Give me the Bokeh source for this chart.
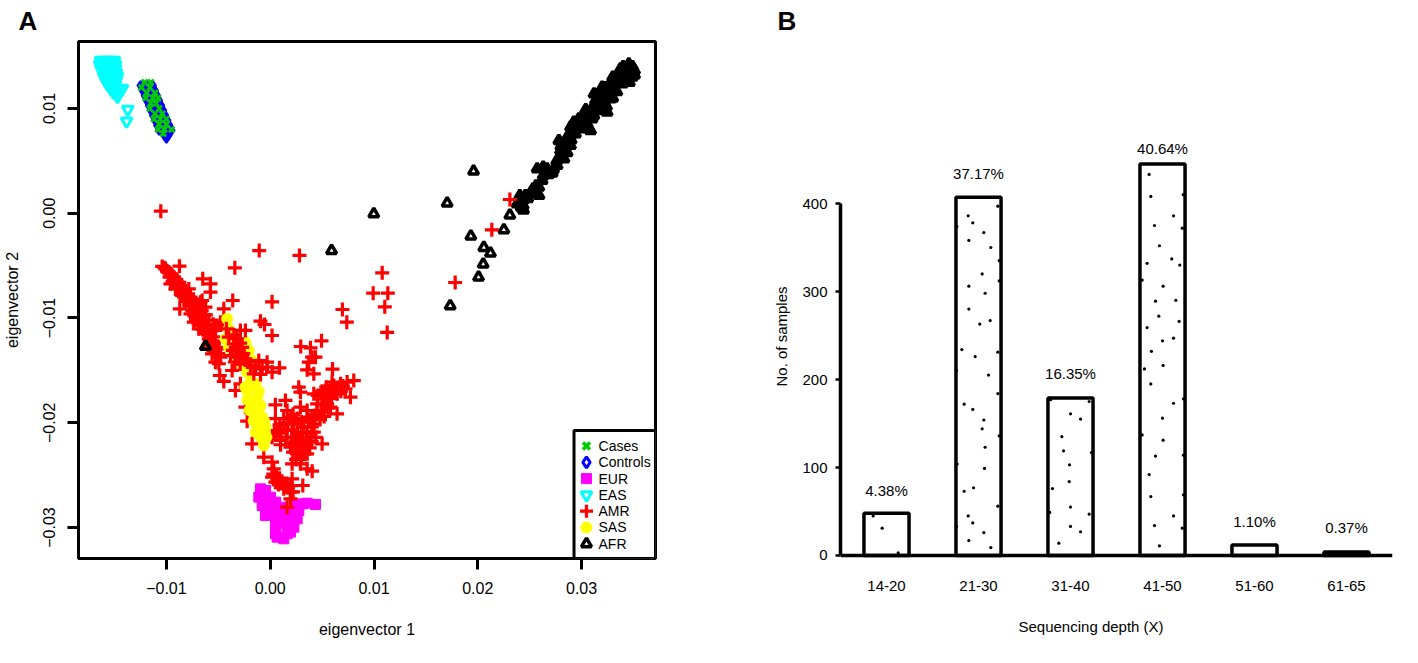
# PCA scatter (A) and sequencing depth bars (B)
from bokeh.core.properties import value
from bokeh.embed import file_html
from bokeh.layouts import row
from bokeh.models import FactorRange, FixedTicker, Range1d, Span, Title
from bokeh.plotting import figure
from bokeh.resources import INLINE

FONT = "Liberation Sans"

## Panel A data, eigenvectors in units of 0.001 ################
cases_x = [-12.1, -11.5, -12.4, -11.6, -11.9, -11.1, -12.0, -11.3, -10.8, -11.5, -11.0, -11.6, -10.7,
           -11.1, -10.4, -11.2, -10.6, -10.0, -10.7, -10.0, -10.8, -10.2, -9.5, -10.3]
cases_y = [12.5, 12.5, 12.0, 12.0, 11.5, 11.5, 11.0, 11.0, 11.0, 10.5, 10.5, 10.0, 10.0,
           9.5, 9.5, 9.0, 9.0, 9.0, 8.5, 8.5, 8.0, 8.0, 8.0, 7.6]
controls_x = [-12.5, -11.9, -11.3, -12.3, -11.7, -11.1, -12.1, -11.5, -10.9, -11.9, -11.3, -10.7,
              -11.7, -11.1, -10.5, -11.5, -10.9, -10.3, -11.3, -10.7, -10.1, -11.1, -10.5, -9.9,
              -10.9, -10.3, -9.7, -10.7, -10.1, -9.5, -10.2, -9.8, -10.0]
controls_y = [12.20, 12.20, 12.20, 11.72, 11.72, 11.72, 11.24, 11.24, 11.24, 10.77, 10.77, 10.77,
              10.29, 10.29, 10.29, 9.81, 9.81, 9.81, 9.33, 9.33, 9.33, 8.86, 8.86, 8.86,
              8.38, 8.38, 8.38, 7.90, 7.90, 7.90, 7.42, 7.42, 7.14]
eur_x = [-1.10, -0.94, -0.45, -0.61, 0.03, -0.77, -0.13, 0.51, -0.45, 0.19, 0.99, 0.51, 1.15, 1.79, 2.44,
         3.08, 3.56, 4.36, 2.76, 0.51, 1.15, 1.95, 2.60, 0.67, 1.31, 1.95, 2.28, 0.51, 1.63]
eur_y = [-27.10, -26.31, -26.47, -27.26, -27.10, -27.90, -27.90, -27.58, -28.85, -28.70, -28.06, -29.33,
         -28.85, -28.70, -27.90, -27.74, -27.68, -27.80, -28.38, -30.13, -29.65, -29.49, -29.17, -30.92,
         -31.08, -30.44, -29.97, -30.60, -30.60]
eas_x = [-16.35, -15.96, -15.58, -15.29, -15.00,
         -16.44, -16.06, -15.67, -15.29, -14.90,
         -16.35, -15.96, -15.58, -15.19, -14.90,
         -16.16, -15.77, -15.38, -15.00, -14.81,
         -16.06, -15.67, -15.29, -14.90, -14.71,
         -15.87, -15.48, -15.10, -14.81,
         -15.67, -15.29, -14.90,
         -15.38, -15.00, -14.61,
         -15.10, -14.81,
         -14.71, -14.23, -13.72, -13.84]
eas_y = [14.58, 14.58, 14.58, 14.58, 14.58,
         14.20, 14.20, 14.20, 14.20, 14.20,
         13.82, 13.82, 13.82, 13.82, 13.82,
         13.44, 13.44, 13.44, 13.44, 13.44,
         13.06, 13.06, 13.06, 13.06, 13.06,
         12.67, 12.67, 12.67, 12.67,
         12.29, 12.29, 12.29,
         11.91, 11.91, 11.91,
         11.53, 11.53,
         11.14, 11.91, 9.90, 8.79]
amr_x = [-10.41, -10.09, -9.77, -9.45, -9.29, -8.97, -9.61, -8.65, -9.13, -8.33, -7.84, -8.49, -7.68, -8.17,
         -7.52, -8.71, -6.72, -7.20, -6.24, -7.68, -7.04, -6.40, -7.36, -6.56, -6.08, -6.88, -5.76, -5.11,
         -4.79, -5.28, -5.92, -5.44, -4.95, -5.60, -4.79, -5.28, -4.95, -4.86, -4.47, -3.35, -2.87, -8.74,
         -6.50, -5.76, -5.76, -3.61, -3.41, -6.56, -4.47,
         -10.54, -1.06, 2.82, 23.09, 21.35, 17.82, 10.79, 9.92, 11.33, 11.04, 11.27,
         -0.94, -0.55, 0.18, 0.18, 4.94, 2.94, 3.88, 4.04, 4.36, 3.72, 3.56, 4.20, 6.00, 6.96, 7.38,
         8.05, 7.41, 6.77, 5.96, 6.12, 7.73, 6.44, 7.25, 5.32, 4.20, 2.75, 2.91, 5.00, 5.48, 6.44, 5.80,
         4.52, 3.56, 1.47, 0.50, 1.63, 2.91, 4.20, 3.23, 3.88, 5.00, 2.27, 1.31, 0.67, 1.63, 2.75, 3.23,
         2.59, 2.91, 3.56, 4.04, 2.11, 0.99, 0.18, -1.74, -2.22, -2.39, -0.62, 0.18, 0.34, 0.18, 0.50,
         1.31, 2.11, 3.14, 1.31, 1.95, 1.95, 1.63,
         2.00, 3.56, 4.52, 5.16, 2.59, 3.56, 4.20, 1.95, 3.56,
         # left arm
         -10.2, -9.95, -9.6, -9.7, -9.3, -9.4, -9.05, -9.0, -8.75, -8.8, -8.5, -8.6, -8.2, -8.3, -7.9, -8.0,
         -7.7, -7.8, -7.4, -7.5, -7.1, -7.3, -6.9, -7.1, -6.7, -6.9, -6.4, -6.5, -6.1, -6.3, -5.9, -5.7, -5.5,
         -5.3, -5.6, -5.2, -5.3, -5.0, -7.4, -7.0, -6.6, -6.2, -5.9, -5.5, -6.0,
         # right arm, lower part
         0.5, 0.9, 1.3, 1.7, 2.2, 2.6, 3.0, 3.9, 4.3, 4.8, 5.2, 0.4, 1.0, 1.6, 2.1, 3.0, 4.0, 2.2, 2.6, 3.1,
         3.5, 4.0, 4.4, 2.0, 2.4, 2.9, 3.5, 3.8, 2.2, 2.9, 3.3, 2.5, 3.0, 1.0,
         # right arm, upper part
         4.6, 5.0, 5.2, 5.5, 5.0, 5.9, 5.6, 4.9, 5.4, 6.2, 6.8, 7.0, 5.7,
         # chain down to EUR
         0.3, 0.6, 0.9, 0.8, 1.1, 1.6, 1.7, 2.0, 2.2]
amr_y = [-5.08, -5.31, -5.62, -5.94, -6.42, -6.58, -6.74, -6.90, -7.22, -7.37, -7.22, -7.85, -8.01, -8.33,
         -8.65, -9.12, -8.49, -9.12, -8.97, -9.60, -9.76, -9.76, -10.40, -10.40, -10.72, -11.03, -11.19, -10.72,
         -10.40, -11.19, -11.99, -12.47, -12.94, -13.42, -13.74, -14.22, -14.37, -15.49, -16.06, -16.92, -16.28, -5.05,
         -6.26, -6.74, -7.53, -8.33, -5.21, -8.33, -9.12,
         0.20, -3.56, -4.03, 1.31, -1.58, -6.61, -5.69, -7.63, -7.63, -8.93, -11.38,
         -10.30, -10.62, -11.67, -8.46, -12.18, -12.72, -12.85, -13.74, -13.74, -14.22, -14.95, -15.33, -14.88, -9.19, -10.40,
         -15.97, -16.12, -16.28, -16.12, -16.44, -17.56, -17.24, -16.76, -16.92, -17.24, -16.60, -17.08, -17.72, -18.19, -19.15, -18.51,
         -19.15, -19.47, -17.87, -18.29, -18.83, -18.51, -20.10, -20.42, -21.38, -22.01, -20.10, -20.10, -20.74, -21.38, -21.69, -22.33,
         -22.97, -23.92, -24.40, -24.62, -23.92, -21.69, -21.38, -22.01, -19.85, -18.51, -23.29, -23.76, -24.40, -25.19, -25.67,
         -25.83, -25.35, -25.99, -26.31, -26.63, -27.26, -28.06,
         -19.50, -18.83, -18.19, -18.83, -20.90, -20.90, -20.90, -22.33, -22.97,
         -5.2, -5.5, -5.8, -6.1, -6.1, -6.5, -6.3, -6.9, -6.6, -7.2, -7.1, -7.6, -7.6, -8.0, -7.9, -8.4,
         -8.4, -8.8, -8.9, -9.3, -9.4, -9.8, -9.8, -10.2, -10.2, -10.6, -10.6, -11.1, -11.2, -11.5, -11.6, -12.2, -11.8,
         -12.2, -12.8, -12.8, -13.3, -13.4, -8.2, -8.9, -9.3, -9.7, -10.2, -10.6, -12.6,
         -19.6, -20.2, -19.6, -20.0, -19.2, -19.6, -19.9, -19.7, -19.3, -19.7, -19.4, -21.0, -21.0, -20.7, -20.7, -21.0, -20.4, -21.4, -21.2, -21.6,
         -21.4, -21.8, -21.4, -22.0, -22.2, -22.3, -22.0, -22.4, -22.8, -22.8, -23.0, -23.5, -23.4, -22.1,
         -17.4, -17.0, -17.4, -17.6, -18.3, -17.7, -18.6, -19.0, -16.6, -17.0, -17.0, -16.5, -17.2,
         -24.9, -25.1, -25.3, -25.9, -25.6, -25.8, -26.2, -26.0, -26.6]
# AMR samples that sit on top of the SAS cloud
amr_top_x = [-4.22, -3.99, -2.87, -2.39, -3.51, -3.03, -3.83, -3.19, -2.39, -3.67, -1.90, -1.10, -0.30, -1.42,
             -0.78, 0.18, 0.89, -0.30, -0.94, -1.58,
             -3.5, -3.2, -2.9, -3.3, -2.7, -3.6, -2.6, -3.0, -3.4, -2.2, -2.9]
amr_top_y = [-11.03, -11.83, -11.19, -11.19, -12.47, -13.10, -13.58, -13.74, -13.90, -15.01, -14.53, -14.06, -14.22, -14.69,
             -14.85, -15.17, -14.76, -14.69, -15.39, -15.33,
             -11.6, -12.0, -12.4, -12.8, -12.8, -13.1, -13.4, -13.6, -14.2, -14.2, -14.4]
sas_x = [-4.15, -3.99, -4.31, -3.99, -3.67, -2.39, -2.06, -1.74, -2.71, -3.19, -2.22, -1.90, -2.22, -1.42,
         -2.06, -1.26, -1.74, -0.94, -1.42, -0.78, -1.26, -0.46, -0.94, -0.36, -0.62,
         -2.4, -1.1, -2.2, -1.0, -2.0, -1.6, -0.6, -1.4, -0.5]
sas_y = [-10.08, -11.03, -11.99, -12.78, -13.10, -12.31, -13.10, -14.06, -14.53, -13.90, -15.17, -16.12, -16.92, -16.28,
         -17.87, -17.56, -18.51, -18.35, -19.47, -19.47, -20.42, -20.42, -21.38, -21.38, -22.17,
         -16.6, -17.0, -17.8, -18.5, -18.8, -19.8, -19.8, -20.9, -20.9]
# scattered AFR samples
afr_x = [19.59, 17.05, 9.98, 23.09, 22.51, 19.33, 20.58, 21.22, 20.52, 20.07, 17.34, 5.91, -6.23]
afr_y = [4.02, 0.96, -0.06, -0.18, -1.58, -2.19, -3.27, -3.81, -4.86, -6.10, -8.84, -3.56, -12.72]
# AFR samples in the dense diagonal band
afr_band_x = [23.79, 24.18, 24.37, 24.05, 24.59, 25.08, 25.56, 25.88, 26.20, 25.72, 26.30, 26.68, 27.16, 27.64,
              28.13, 27.97, 27.81, 28.45, 28.93, 28.93, 29.41, 29.73, 30.05, 30.53, 30.86, 31.18, 31.50, 31.34,
              31.82, 31.98, 32.46, 32.62, 32.78, 33.26, 33.42, 33.91, 34.07, 34.55, 34.87, 35.10, 32.30, 33.10,
              34.39, 30.53, 30.05, 29.25, 28.61, 33.75, 31.98, 31.18,
              34.0, 34.9, 35.1, 34.6, 33.6, 33.0, 33.4, 32.6, 32.2, 33.0, 32.2, 31.6, 31.2, 32.4, 31.6, 31.0, 30.4,
              31.0, 30.2, 29.6, 29.2, 29.0, 28.5, 28.0, 28.6, 28.3, 27.6, 27.3, 26.8, 26.3, 25.6, 25.3, 24.8, 25.9,
              24.4, 24.4]
afr_band_y = [0.90, 0.58, 0.74, 1.69, 1.69, 1.92, 1.92, 2.49, 3.13, 4.24, 4.40, 4.24, 3.83, 4.56,
              5.35, 5.99, 6.94, 6.31, 6.47, 8.22, 7.58, 9.01, 8.06, 8.53, 7.90, 9.33, 9.97, 10.76,
              11.56, 10.29, 9.65, 12.19, 10.92, 11.72, 12.99, 12.35, 13.47, 14.26, 12.99, 13.63, 11.08, 12.35,
              12.83, 9.33, 8.85, 8.69, 7.26, 13.79, 12.04, 10.29,
              14.0, 14.0, 13.2, 12.5, 12.8, 13.0, 11.6, 11.6, 12.0, 11.0, 10.6, 11.0, 11.4, 10.2, 9.8, 9.9, 9.9,
              9.0, 8.4, 8.2, 7.6, 7.0, 6.8, 6.4, 5.8, 5.2, 5.0, 4.2, 3.7, 3.6, 2.6, 2.3, 1.4, 1.7,
              1.3, 0.3]

legend_labels = ['Cases', 'Controls', 'EUR', 'EAS', 'AMR', 'SAS', 'AFR']

## Panel B data ################################################
depth = ['14-20', '21-30', '31-40', '41-50', '51-60', '61-65']
samples = [48, 407, 179, 445, 12, 4]
pct_labels = ['4.38%', '37.17%', '16.35%', '40.64%', '1.10%', '0.37%']
pct_offset = [-23, -24, -24, -15, -23, -24]

# stipple inside the bars, x is in factor-range units
dots_x = [0.355, 0.453, 0.627,
          1.710, 1.388, 1.438, 1.264, 1.558, 1.395, 1.634, 1.725, 1.540, 1.725, 1.395, 1.572, 1.395, 1.627, 1.514,
          1.319, 1.710, 1.464, 1.261, 1.609, 1.710, 1.344, 1.438, 1.558, 1.540, 1.725, 1.572, 1.268, 1.565, 1.446,
          1.344, 1.710, 1.388, 1.438, 1.261, 1.558, 1.395, 1.634,
          2.283, 2.703, 2.500, 2.609, 2.406, 2.424, 2.728, 2.489, 2.486, 2.304, 2.275, 2.703, 2.500, 2.500, 2.609, 2.373,
          3.355, 3.373, 3.725, 3.620, 3.413, 3.714, 3.467, 3.601, 3.333, 3.688, 3.279, 3.507, 3.424, 3.645, 3.460,
          3.681, 3.333, 3.500, 3.620, 3.380, 3.304, 3.507, 3.373, 3.728, 3.620, 3.500, 3.279, 3.507, 3.424, 3.728,
          3.355, 3.373, 3.728, 3.620, 3.413, 3.714, 3.467]
dots_y = [45, 31, 3,
          397, 386, 378, 374, 367, 358, 350, 335, 320, 312, 306, 298, 280, 267, 263,
          234, 231, 226, 210, 205, 184, 172, 166, 154, 144, 136, 123, 104, 99, 77,
          73, 56, 45, 37, 33, 26, 17, 9,
          177, 175, 161, 155, 135, 119, 117, 103, 84, 76, 49, 47, 55, 33, 27, 14,
          433, 408, 410, 386, 375, 372, 352, 337, 332, 330, 313, 306, 289, 290, 272,
          266, 259, 244, 247, 232, 212, 216, 195, 178, 173, 156, 137, 131, 113, 114,
          92, 67, 69, 45, 34, 31, 11]


def milli(vals):
    return [v * 0.001 for v in vals]


def side_text(fig, side, text, size="15px", style="normal", **kw):
    # panel titles, they sit outside the frame
    fig.add_layout(Title(text=text, text_font=FONT, text_font_size=size, text_font_style=style,
                         text_color="black", **kw), side)


## Panel A #####################################################
a = figure(width=760, height=660, output_backend="svg", toolbar_location=None,
           x_range=Range1d(-0.01847, 0.03712), y_range=Range1d(-0.03296, 0.016396),
           min_border_left=78, min_border_right=105, min_border_top=41, min_border_bottom=102)
a.grid.visible = False
a.outline_line_color = "black"
a.outline_line_width = 3
a.outline_line_alpha = 1

a.scatter(milli(afr_x), milli(afr_y), marker="triangle", size=10, fill_color=None, line_color="black", line_width=3.5)
a.scatter(milli(afr_band_x), milli(afr_band_y), marker="triangle", size=10, fill_color="black", line_color="black", line_width=3.5)
a.scatter(milli(eas_x), milli(eas_y), marker="inverted_triangle", size=11, fill_color=None, line_color="#00ffff", line_width=3)
a.scatter(milli(eur_x), milli(eur_y), marker="square", size=10, fill_color="#ff00ff", line_color="#ff00ff")
a.scatter(milli(amr_x), milli(amr_y), marker="cross", size=14, fill_color=None, line_color="#ff0000", line_width=3.2)
a.scatter(milli(sas_x), milli(sas_y), marker="circle", size=11, fill_color="#ffff00", line_color="#ffff00")
a.scatter(milli(amr_top_x), milli(amr_top_y), marker="cross", size=14, fill_color=None, line_color="#ff0000", line_width=3.2)
a.scatter(milli(afr_x[-1:]), milli(afr_y[-1:]), marker="triangle", size=10, fill_color=None, line_color="black", line_width=3.5)
a.scatter(milli(controls_x), milli(controls_y), marker="diamond", size=9, fill_color="#0000ff", line_color="#0000ff", line_width=2)
a.scatter(milli(cases_x), milli(cases_y), marker="x", size=8, fill_color=None, line_color="#00cc00", line_width=2.6)

# legend box in the lower right corner, drawn with the same markers at full size
a.quad(left=0.02927, right=0.03712, top=-0.02074, bottom=-0.03296, fill_color="white", line_color="black", line_width=3)
leg_y = [-0.02222 - i * 0.001556 for i in range(7)]
leg_kw = dict(x=0.03047)
a.scatter(y=leg_y[0], marker="x", size=10, line_color="#00cc00", line_width=3.5, **leg_kw)
a.scatter(y=leg_y[1], marker="diamond", size=11, fill_color=None, line_color="#0000ff", line_width=3, **leg_kw)
a.scatter(y=leg_y[2], marker="square", size=10, fill_color="#ff00ff", line_color="#ff00ff", **leg_kw)
a.scatter(y=leg_y[3], marker="inverted_triangle", size=11, fill_color=None, line_color="#00ffff", line_width=3, **leg_kw)
a.scatter(y=leg_y[4], marker="cross", size=13, line_color="#ff0000", line_width=3.2, **leg_kw)
a.scatter(y=leg_y[5], marker="circle", size=11, fill_color="#ffff00", line_color="#ffff00", **leg_kw)
a.scatter(y=leg_y[6], marker="triangle", size=10, fill_color=None, line_color="black", line_width=3.5, **leg_kw)
a.text(x=[0.03163] * 7, y=leg_y, text=legend_labels, text_font=value(FONT), text_font_size="14px",
       text_color="black", text_align="left", text_baseline="middle")

a.xaxis.ticker = FixedTicker(ticks=[-0.01, 0, 0.01, 0.02, 0.03])
a.xaxis.major_label_overrides = {-0.01: "\u22120.01", 0: "0.00", 0.01: "0.01", 0.02: "0.02", 0.03: "0.03"}
a.yaxis.ticker = FixedTicker(ticks=[-0.03, -0.02, -0.01, 0, 0.01])
a.yaxis.major_label_overrides = {-0.03: "\u22120.03", -0.02: "\u22120.02", -0.01: "\u22120.01", 0: "0.00", 0.01: "0.01"}
a.yaxis.major_label_orientation = "vertical"
a.xaxis.axis_label = "eigenvector 1"
a.yaxis.axis_label = "eigenvector 2"
a.xaxis.axis_label_standoff = 24
a.yaxis.axis_label_standoff = 20
for ax in [a.xaxis[0], a.yaxis[0]]:
    ax.axis_line_color = None
    ax.major_tick_in = 0
    ax.major_tick_out = 11
    ax.major_tick_line_width = 3
    ax.major_tick_line_color = "black"
    ax.minor_tick_line_color = None
    ax.major_label_standoff = 12
    ax.major_label_text_font = FONT
    ax.major_label_text_font_size = "16px"
    ax.major_label_text_color = "black"
    ax.axis_label_text_font = FONT
    ax.axis_label_text_font_size = "16px"
    ax.axis_label_text_font_style = "normal"
    ax.axis_label_text_color = "black"

side_text(a, "above", "A", size="26px", style="bold", align="left", offset=-60, standoff=8, vertical_align="top")

## Panel B #####################################################
# both panels share their frame edges in a row, so the baseline y=0 sits a little above the frame bottom
b = figure(width=650, height=660, output_backend="svg", toolbar_location=None,
           x_range=FactorRange(factors=depth, range_padding=0), y_range=Range1d(-3.41, 584.1),
           min_border_left=80, min_border_right=18, min_border_top=41, min_border_bottom=102)
b.grid.visible = False
b.outline_line_color = None

b.vbar(x=depth, top=samples, bottom=0, width=0.49, fill_color="white", line_color="black", line_width=3.5)
b.scatter(dots_x, dots_y, marker="circle", size=3.2, fill_color="black", line_color=None)
b.text(x=depth, y=samples, text=pct_labels, y_offset=pct_offset, text_font=value(FONT), text_font_size="15px",
       text_color="black", text_align="center", text_baseline="middle")
b.add_layout(Span(location=0, dimension="width", line_color="black", line_width=3.5))

b.yaxis.ticker = FixedTicker(ticks=[0, 100, 200, 300, 400])
b.yaxis.bounds = (0, 400)
b.yaxis.major_label_orientation = "horizontal"
b.yaxis.axis_line_color = "black"
b.yaxis.axis_line_width = 3.5
b.yaxis.major_tick_in = 0
b.yaxis.major_tick_out = 5
b.yaxis.major_tick_line_width = 2.5
b.yaxis.major_tick_line_color = "black"
b.yaxis.minor_tick_line_color = None
b.yaxis.major_label_standoff = 8
b.xaxis.axis_line_color = None
b.xaxis.major_tick_line_color = None
b.xaxis.major_label_standoff = 16
for ax in [b.xaxis[0], b.yaxis[0]]:
    ax.major_label_text_font = FONT
    ax.major_label_text_font_size = "15px"
    ax.major_label_text_color = "black"

side_text(b, "above", "B", size="26px", style="bold", align="left", offset=-63, standoff=8, vertical_align="top")
side_text(b, "below", "Sequencing depth (X)", align="left", offset=178, standoff=45)
side_text(b, "left", "No. of samples", align="left", offset=172, standoff=20)

p = row(a, b, spacing=0)
open("out.html", "w").write(file_html(p, INLINE))
